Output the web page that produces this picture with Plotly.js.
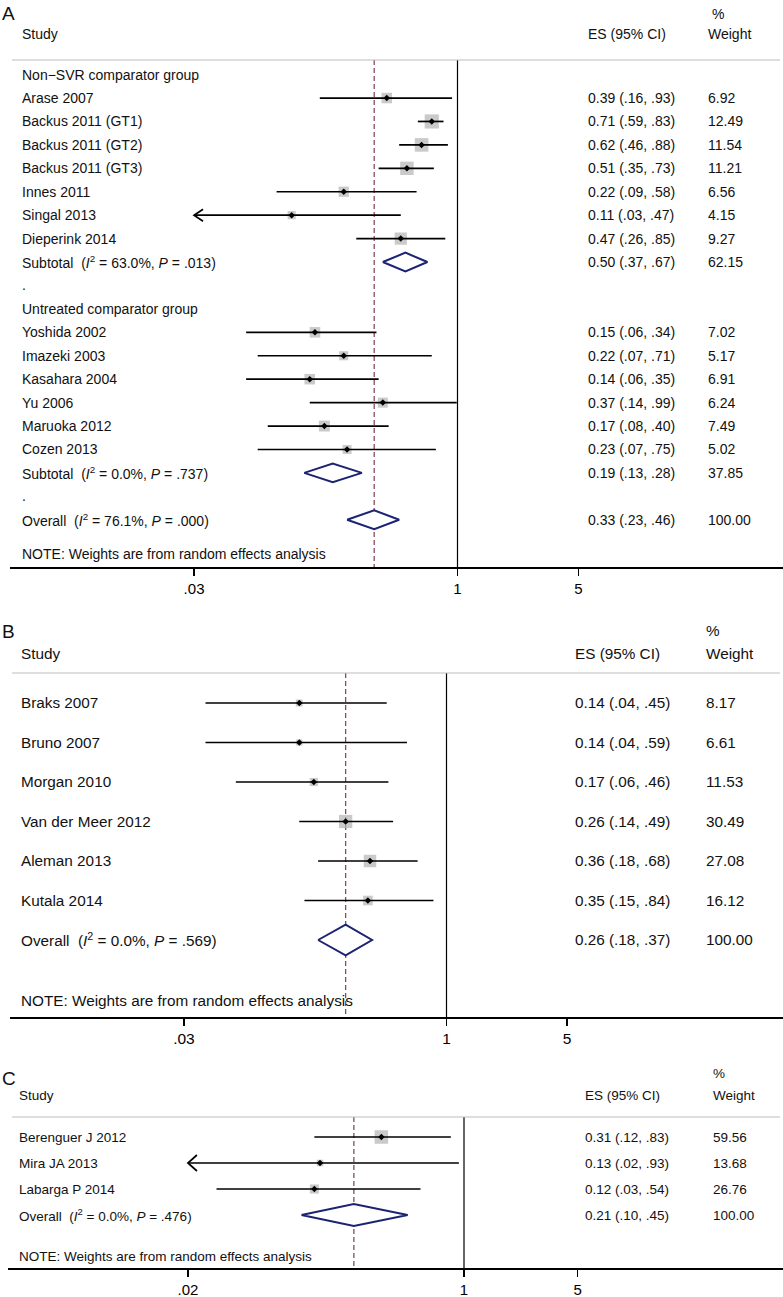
<!DOCTYPE html>
<html><head><meta charset="utf-8">
<script src="https://cdn.plot.ly/plotly-3.0.1.min.js"></script>
<style>html,body{margin:0;padding:0;background:#fff}#chart{width:783px;height:1297px}</style>
</head><body><div id="chart"></div>
<script>
// ---------------- DATA ----------------
// Panel A
const A_groups = ["Non\u2212SVR comparator group", "Untreated comparator group"];
const A_g1_study = ["Arase 2007","Backus 2011 (GT1)","Backus 2011 (GT2)","Backus 2011 (GT3)","Innes 2011","Singal 2013","Dieperink 2014"];
const A_g1_es = [0.39,0.71,0.62,0.51,0.22,0.11,0.47];
const A_g1_lo = [0.16,0.59,0.46,0.35,0.09,0.03,0.26];
const A_g1_hi = [0.93,0.83,0.88,0.73,0.58,0.47,0.85];
const A_g1_w  = [6.92,12.49,11.54,11.21,6.56,4.15,9.27];
const A_g2_study = ["Yoshida 2002","Imazeki 2003","Kasahara 2004","Yu 2006","Maruoka 2012","Cozen 2013"];
const A_g2_es = [0.15,0.22,0.14,0.37,0.17,0.23];
const A_g2_lo = [0.06,0.07,0.06,0.14,0.08,0.07];
const A_g2_hi = [0.34,0.71,0.35,0.99,0.40,0.75];
const A_g2_w  = [7.02,5.17,6.91,6.24,7.49,5.02];
const A_sub_es = [0.50,0.19];
const A_sub_lo = [0.37,0.13];
const A_sub_hi = [0.67,0.28];
const A_sub_w  = [62.15,37.85];
const A_sub_i2 = ["63.0","0.0"];
const A_sub_p  = [".013",".737"];
const A_overall = [0.33,0.23,0.46];   // es, lo, hi
const A_overall_i2 = "76.1", A_overall_p = ".000";
const A_ticks = [0.03,1,5], A_tickText = [".03","1","5"];

// Panel B
const B_study = ["Braks 2007","Bruno 2007","Morgan 2010","Van der Meer 2012","Aleman 2013","Kutala 2014"];
const B_es = [0.14,0.14,0.17,0.26,0.36,0.35];
const B_lo = [0.04,0.04,0.06,0.14,0.18,0.15];
const B_hi = [0.45,0.59,0.46,0.49,0.68,0.84];
const B_w  = [8.17,6.61,11.53,30.49,27.08,16.12];
const B_overall = [0.26,0.18,0.37];
const B_overall_i2 = "0.0", B_overall_p = ".569";
const B_ticks = [0.03,1,5], B_tickText = [".03","1","5"];

// Panel C
const C_study = ["Berenguer J 2012","Mira JA 2013","Labarga P 2014"];
const C_es = [0.31,0.13,0.12];
const C_lo = [0.12,0.02,0.03];
const C_hi = [0.83,0.93,0.54];
const C_w  = [59.56,13.68,26.76];
const C_overall = [0.21,0.10,0.45];
const C_overall_i2 = "0.0", C_overall_p = ".476";
const C_ticks = [0.02,1,5], C_tickText = [".02","1","5"];

const NOTE = "NOTE: Weights are from random effects analysis";

// ---------------- BUILD ROWS ----------------
function studyRows(names, es, lo, hi, w){
  return names.map((n,i)=>({kind:'study', label:n, es:es[i], lo:lo[i], hi:hi[i], w:w[i]}));
}
function sumLabel(word, i2, p){
  return word + "\u00a0\u00a0(<i>I</i><sup>2</sup> = " + i2 + "%, <i>P</i> = " + p + ")";
}
const rowsA = [].concat(
  [{kind:'group', label:A_groups[0]}],
  studyRows(A_g1_study, A_g1_es, A_g1_lo, A_g1_hi, A_g1_w),
  [{kind:'sum', label:sumLabel("Subtotal",A_sub_i2[0],A_sub_p[0]), es:A_sub_es[0], lo:A_sub_lo[0], hi:A_sub_hi[0], w:A_sub_w[0]},
   {kind:'dot', label:'.'},
   {kind:'group', label:A_groups[1]}],
  studyRows(A_g2_study, A_g2_es, A_g2_lo, A_g2_hi, A_g2_w),
  [{kind:'sum', label:sumLabel("Subtotal",A_sub_i2[1],A_sub_p[1]), es:A_sub_es[1], lo:A_sub_lo[1], hi:A_sub_hi[1], w:A_sub_w[1]},
   {kind:'dot', label:'.'},
   {kind:'sum', label:sumLabel("Overall",A_overall_i2,A_overall_p), es:A_overall[0], lo:A_overall[1], hi:A_overall[2], w:100}]
);
const rowsB = [].concat(
  studyRows(B_study, B_es, B_lo, B_hi, B_w),
  [{kind:'sum', label:sumLabel("Overall",B_overall_i2,B_overall_p), es:B_overall[0], lo:B_overall[1], hi:B_overall[2], w:100}]
);
const rowsC = [].concat(
  studyRows(C_study, C_es, C_lo, C_hi, C_w),
  [{kind:'sum', label:sumLabel("Overall",C_overall_i2,C_overall_p), es:C_overall[0], lo:C_overall[1], hi:C_overall[2], w:100}]
);

// ---------------- LAYOUT CONFIG ----------------
const W = 783, H = 1297;
const FONT = '"Liberation Sans", Arial, Helvetica, sans-serif';
const NAVY = '#1b2372', MAROON = '#8e4a5a', GRAY = '#b4b4b4';

const panels = [
  {letter:'A', n:'', rows:rowsA, overall:A_overall[0], ticks:A_ticks, tickText:A_tickText,
   one:457.5, ppd:173, left:10, row0:74.6, rowH:23.43, header:60, axisPx:567,
   fs:14, tickFs:15, colStudy:20, colES:586, colW:706, colPct:710,
   letterY:14, pctY:14, hdrY:34, noteRow:20.46, k:4.0, dia:0.4, armX:9, armY:6},
  {letter:'B', n:'2', rows:rowsB, overall:B_overall[0], ticks:B_ticks, tickText:B_tickText,
   one:446.5, ppd:172.4, left:10, row0:703, rowH:39.5, header:673, axisPx:1017,
   fs:15.3, tickFs:15.5, colStudy:19, colES:573, colW:704, colPct:704,
   letterY:631, pctY:630, hdrY:653, noteRow:7.52, k:2.4, dia:0.39, armX:9, armY:7},
  {letter:'C', n:'3', rows:rowsC, overall:C_overall[0], ticks:C_ticks, tickText:C_tickText,
   one:464, ppd:162.5, left:8, row0:1137, rowH:26, header:1117, axisPx:1268,
   fs:13.5, tickFs:15, colStudy:17, colES:583, colW:711, colPct:711,
   letterY:1078, pctY:1073, hdrY:1095, noteRow:4.6, k:1.75, dia:0.42, armX:9, armY:8}
];

function fmtES(v){ return v.toFixed(2); }
function fmtCI(v){ return v.toFixed(2).replace(/^0/, ''); }

const traces = [];
const annotations = [];
const shapes = [];
const layout = {
  width: W, height: H,
  margin: {l:0, r:0, t:0, b:0, pad:0},
  paper_bgcolor: '#fff', plot_bgcolor: 'rgba(0,0,0,0)',
  showlegend: false, hovermode: false,
  font: {family: FONT, color: '#000'}
};

panels.forEach(p => {
  const xa = 'x' + p.n, ya = 'y' + p.n;
  const yTop = (p.header - p.row0) / p.rowH;
  const yBot = (p.axisPx - p.row0) / p.rowH;
  layout['xaxis' + p.n] = {
    type: 'log', domain: [p.left / W, 1], anchor: ya,
    range: [(p.left - p.one) / p.ppd, (W - p.one) / p.ppd],
    showgrid: false, zeroline: false, showline: true, linecolor: '#000', linewidth: 1.5,
    ticks: 'outside', ticklen: 7, tickwidth: 1.3, tickcolor: '#000',
    tickmode: 'array', tickvals: p.ticks, ticktext: p.tickText,
    tickfont: {family: FONT, size: p.tickFs, color: '#000'}, fixedrange: true
  };
  layout['yaxis' + p.n] = {
    domain: [1 - p.axisPx / H, 1 - p.header / H], anchor: xa,
    range: [yBot, yTop], showgrid: false, zeroline: false, showline: false,
    showticklabels: false, ticks: '', fixedrange: true
  };

  // header line
  shapes.push({type:'line', xref:'paper', yref:'paper', x0:12/W, x1:780/W,
    y0:1 - p.header/H, y1:1 - p.header/H, line:{color:'#bdbdbd', width:1}});

  // reference lines
  traces.push({type:'scatter', mode:'lines', xaxis:xa, yaxis:ya,
    x:[p.overall, p.overall], y:[yTop, yBot], line:{color:MAROON, width:1.3, dash:'5px,3px'}});
  traces.push({type:'scatter', mode:'lines', xaxis:xa, yaxis:ya,
    x:[1, 1], y:[yTop, yBot], line:{color:'#000', width:1.2}});

  const sx=[], sy=[], ss=[], lx=[], ly=[];
  p.rows.forEach((r, i) => {
    const tx = {xref:'paper', yref:ya, y:i, xanchor:'left', yanchor:'middle', showarrow:false,
      font:{family:FONT, size:p.fs, color:'#111'}};
    annotations.push(Object.assign({}, tx, {x:p.colStudy/W, text:r.label}));
    if (r.kind === 'study' || r.kind === 'sum') {
      annotations.push(Object.assign({}, tx, {x:p.colES/W, text: fmtES(r.es) + ' (' + fmtCI(r.lo) + ', ' + fmtCI(r.hi) + ')'}));
      annotations.push(Object.assign({}, tx, {x:p.colW/W, text: r.w.toFixed(2)}));
    }
    if (r.kind === 'study') {
      sx.push(r.es); sy.push(i); ss.push(p.k * Math.sqrt(r.w));
      lx.push(r.lo, r.hi, null); ly.push(i, i, null);
      if (r.lo <= p.ticks[0]) {
        const f = Math.pow(10, p.armX / p.ppd), dy = p.armY / p.rowH;
        lx.push(r.lo * f, r.lo, r.lo * f, null); ly.push(i - dy, i, i + dy, null);
      }
    }
    if (r.kind === 'sum') {
      traces.push({type:'scatter', mode:'lines', xaxis:xa, yaxis:ya, fill:'toself', fillcolor:'#fff',
        x:[r.lo, r.es, r.hi, r.es, r.lo], y:[i, i - p.dia, i, i + p.dia, i],
        line:{color:NAVY, width:2}});
    }
  });
  traces.push({type:'scatter', mode:'markers', xaxis:xa, yaxis:ya, x:sx, y:sy,
    marker:{symbol:'square', size:ss, color:GRAY, line:{width:0}}});
  traces.push({type:'scatter', mode:'lines', xaxis:xa, yaxis:ya, x:lx, y:ly,
    line:{color:'#000', width:1.7}, connectgaps:false});
  traces.push({type:'scatter', mode:'markers', xaxis:xa, yaxis:ya, x:sx, y:sy,
    marker:{symbol:'diamond', size:5, color:'#000'}});

  // note
  annotations.push({xref:'paper', yref:ya, x:p.colStudy/W, y:p.noteRow, xanchor:'left', yanchor:'middle',
    showarrow:false, text:NOTE, font:{family:FONT, size:p.fs, color:'#111'}});
  // headers
  const hd = {xref:'paper', yref:'paper', xanchor:'left', yanchor:'middle', showarrow:false,
    font:{family:FONT, size:p.fs, color:'#111'}};
  annotations.push(Object.assign({}, hd, {x:p.colStudy/W, y:1 - p.hdrY/H, text:'Study'}));
  annotations.push(Object.assign({}, hd, {x:p.colES/W, y:1 - p.hdrY/H, text:'ES (95% CI)'}));
  annotations.push(Object.assign({}, hd, {x:p.colW/W, y:1 - p.hdrY/H, text:'Weight'}));
  annotations.push(Object.assign({}, hd, {x:p.colPct/W, y:1 - p.pctY/H, text:'%'}));
  annotations.push(Object.assign({}, hd, {x:0, y:1 - p.letterY/H, text:p.letter,
    font:{family:FONT, size:19, color:'#111'}}));
});

layout.annotations = annotations;
layout.shapes = shapes;

Plotly.newPlot('chart', traces, layout, {staticPlot:true, displayModeBar:false});
</script>
</body></html>
